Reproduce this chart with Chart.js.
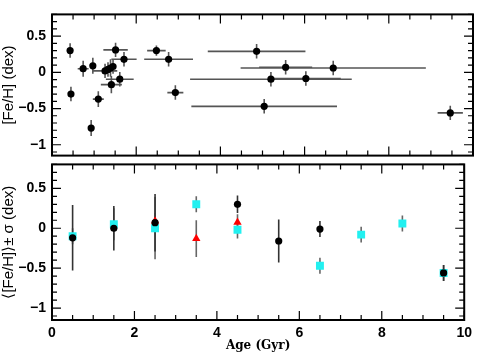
<!DOCTYPE html>
<html>
<head>
<meta charset="utf-8">
<script src="https://cdn.jsdelivr.net/npm/chart.js@4"></script>
<style>
  body { margin: 0; background: #fff; }
  canvas { position: absolute; left: 0; }
  #topChart { top: 0; }
  #bottomChart { top: 150px; }
</style>
</head>
<body>
<canvas id="topChart" width="477" height="170"></canvas>
<canvas id="bottomChart" width="477" height="208"></canvas>
<script>
// top panel: individual stars
const starAge    = [0.43, 0.45, 0.74, 0.93, 0.97, 1.10, 1.26, 1.33, 1.39, 1.45, 1.51, 1.71, 1.61, 1.41, 2.48, 2.77, 2.93, 4.86, 5.20, 6.03, 5.55, 6.68, 5.04, 9.46];
const starFeh    = [0.30, -0.30, 0.05, -0.77, 0.09, -0.37, 0.02, 0.04, 0.06, 0.08, 0.31, 0.18, -0.095, -0.17, 0.30, 0.18, -0.28, 0.29, -0.095, -0.085, 0.07, 0.06, -0.47, -0.56];
const starAgeErr = [0.02, 0.02, 0.13, 0.02, 0.05, 0.13, 0.29, 0.05, 0.05, 0.05, 0.29, 0.30, 0.33, 0.25, 0.22, 0.58, 0.19, 1.16, 1.92, 0.83, 0.63, 2.20, 1.73, 0.30];
const starFehErr = [0.10, 0.10, 0.11, 0.11, 0.11, 0.11, 0.10, 0.10, 0.12, 0.10, 0.10, 0.10, 0.10, 0.12, 0.07, 0.10, 0.10, 0.10, 0.10, 0.10, 0.10, 0.10, 0.10, 0.10];

// bottom panel: binned means
const blackAge = [0.5, 1.5, 2.5, 4.5, 5.5, 6.5, 9.5];
const blackFeh = [-0.12, 0.0, 0.07, 0.30, -0.16, -0.01, -0.56];
const blackSig = [0.41, 0.28, 0.36, 0.11, 0.27, 0.10, 0.10];

const cyanAge = [0.5, 1.5, 2.5, 3.5, 4.5, 6.5, 7.5, 8.5, 9.5];
const cyanFeh = [-0.10, 0.05, 0.0, 0.30, -0.02, -0.47, -0.08, 0.06, -0.56];
const cyanSig = [0.10, 0.20, 0.39, 0.10, 0.11, 0.10, 0.10, 0.10, 0.10];

const redAge = [2.5, 3.5, 4.5];
const redFeh = [0.09, -0.13, 0.075];
const redSig = [0.10, 0.23, 0.10];

const xTicks = [0, 2, 4, 6, 8, 10];
const yTicks = [-1, -0.5, 0, 0.5];

const toPoints = (xs, ys) => xs.map((v, i) => ({ x: v, y: ys[i] }));

const tickFont = { family: 'Liberation Sans', size: 14, weight: 'bold' };

// error bars drawn under the markers
const errPlugin = {
  id: 'errbars',
  beforeDatasetsDraw(chart) {
    const { ctx, chartArea: a, scales: { x, y } } = chart;
    ctx.save();
    ctx.beginPath();
    ctx.rect(a.left, a.top, a.right - a.left, a.bottom - a.top);
    ctx.clip();
    chart.data.datasets.forEach(ds => {
      ctx.strokeStyle = ds.errColor || '#555';
      ctx.lineWidth = 1.6;
      ds.data.forEach((p, j) => {
        const px = x.getPixelForValue(p.x), py = y.getPixelForValue(p.y);
        ctx.beginPath();
        if (ds.errY) {
          ctx.moveTo(px, y.getPixelForValue(p.y - ds.errY[j]));
          ctx.lineTo(px, y.getPixelForValue(p.y + ds.errY[j]));
        }
        if (ds.errX) {
          ctx.moveTo(x.getPixelForValue(p.x - ds.errX[j]), py);
          ctx.lineTo(x.getPixelForValue(p.x + ds.errX[j]), py);
        }
        ctx.stroke();
      });
    });
    ctx.restore();
  }
};

// box + inward ticks on all four sides
const framePlugin = {
  id: 'frame',
  afterDraw(chart) {
    const { ctx, chartArea: a, scales: { x, y } } = chart;
    ctx.save();
    ctx.strokeStyle = '#000';
    ctx.lineWidth = 1.2;
    ctx.beginPath();
    for (let i = 0; i <= 20; i++) {
      const px = x.getPixelForValue(i / 2);
      const len = i % 4 === 0 ? 9 : 5;
      ctx.moveTo(px, a.bottom); ctx.lineTo(px, a.bottom - len);
      ctx.moveTo(px, a.top); ctx.lineTo(px, a.top + len);
    }
    for (let i = -11; i <= 8; i++) {
      const py = y.getPixelForValue(i / 10);
      const len = i % 5 === 0 ? 9 : 5;
      ctx.moveTo(a.left, py); ctx.lineTo(a.left + len, py);
      ctx.moveTo(a.right, py); ctx.lineTo(a.right - len, py);
    }
    ctx.stroke();
    ctx.lineWidth = 2;
    ctx.strokeRect(a.left, a.top, a.right - a.left, a.bottom - a.top);
    ctx.restore();
  }
};

function yScale(title) {
  return {
    min: -1.15, max: 0.8,
    afterBuildTicks: s => { s.ticks = yTicks.map(v => ({ value: v })); },
    afterFit: s => { s.width = 52; },
    grid: { display: false, drawTicks: false },
    border: { display: false },
    ticks: {
      color: '#000', font: tickFont, padding: 6,
      callback: v => String(v).replace('-', '\u2212')
    },
    title: {
      display: true, text: title, color: '#000',
      font: { family: 'Liberation Sans', size: 15 },
      padding: { top: 0, bottom: 2 }
    }
  };
}

new Chart(document.getElementById('topChart'), {
  type: 'scatter',
  data: {
    datasets: [{
      data: toPoints(starAge, starFeh),
      errX: starAgeErr, errY: starFehErr, errColor: '#555',
      pointStyle: 'circle', pointRadius: 3.6,
      backgroundColor: '#000', borderColor: '#000', borderWidth: 0
    }]
  },
  options: {
    responsive: false, animation: false,
    layout: { padding: { top: 6, bottom: 7, left: 0, right: 3 } },
    plugins: { legend: { display: false }, tooltip: { enabled: false } },
    scales: {
      x: { type: 'linear', min: 0, max: 10, display: false },
      y: yScale('[Fe/H] (dex)')
    }
  },
  plugins: [errPlugin, framePlugin]
});

new Chart(document.getElementById('bottomChart'), {
  type: 'scatter',
  data: {
    datasets: [{
      data: toPoints(cyanAge, cyanFeh), errY: cyanSig, errColor: '#666',
      pointStyle: 'rect', pointRadius: 5.6, order: 3,
      backgroundColor: '#22f0f0', borderWidth: 0
    }, {
      data: toPoints(redAge, redFeh), errY: redSig, errColor: '#666',
      pointStyle: 'triangle', pointRadius: 4.8, order: 2,
      backgroundColor: '#f00', borderWidth: 0
    }, {
      data: toPoints(blackAge, blackFeh), errY: blackSig, errColor: '#333',
      pointStyle: 'circle', pointRadius: 3.6, order: 1,
      backgroundColor: '#000', borderWidth: 0
    }]
  },
  options: {
    responsive: false, animation: false,
    layout: { padding: { top: 13, bottom: 0, left: 0, right: 3 } },
    plugins: { legend: { display: false }, tooltip: { enabled: false } },
    scales: {
      x: {
        type: 'linear', min: 0, max: 10,
        afterBuildTicks: s => { s.ticks = xTicks.map(v => ({ value: v })); },
        afterFit: s => { s.height = 38; },
        grid: { display: false, drawTicks: false },
        border: { display: false },
        ticks: { color: '#000', font: tickFont, padding: 5, maxRotation: 0 },
        title: {
          display: true, text: 'Age (Gyr)', color: '#000',
          font: { family: 'DejaVu Serif', size: 12, weight: 'bold' },
          padding: { top: 0, bottom: 5 }
        }
      },
      y: yScale('\u27E8[Fe/H]\u27E9\u00B1 \u03C3 (dex)')
    }
  },
  plugins: [errPlugin, framePlugin]
});
</script>
</body>
</html>
